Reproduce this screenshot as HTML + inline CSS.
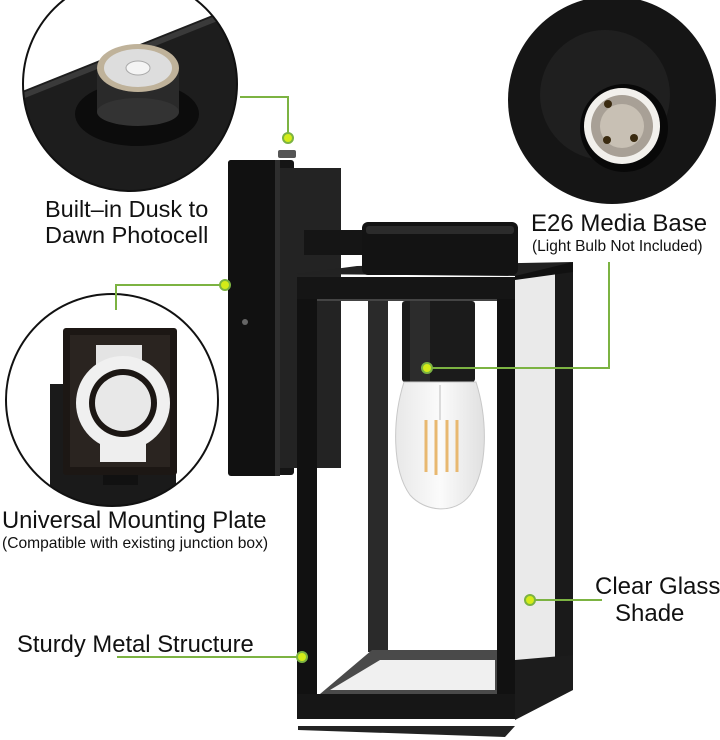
<!DOCTYPE html>
<html><head><meta charset="utf-8"><style>
html,body{margin:0;padding:0;background:#fff;}
svg{display:block}
text{font-family:"Liberation Sans",Arial,sans-serif;fill:#111}
</style></head><body>
<svg width="720" height="740" viewBox="0 0 720 740" xmlns="http://www.w3.org/2000/svg">
<defs>
<clipPath id="c1"><circle cx="130" cy="84" r="107"/></clipPath>
<clipPath id="c3"><circle cx="112" cy="400" r="106"/></clipPath>
<linearGradient id="bulb" x1="0" y1="0" x2="1" y2="0"><stop offset="0" stop-color="#e8e8e8"/><stop offset=".5" stop-color="#fbfbfb"/><stop offset="1" stop-color="#e0e0e0"/></linearGradient>
</defs>

<!-- top-left circle -->
<g clip-path="url(#c1)">
<rect x="0" y="-30" width="260" height="230" fill="#fff"/>
<polygon points="0,100 250,0 260,0 260,200 0,200" fill="#1d1d1d"/>
<polygon points="0,102 250,2 250,8 0,108" fill="#3a3a3a"/>
<ellipse cx="137" cy="114" rx="62" ry="32" fill="#0c0c0c"/>
<rect x="97" y="68" width="82" height="44" fill="#2a2a2a"/>
<ellipse cx="138" cy="112" rx="41" ry="14" fill="#333"/>
<ellipse cx="138" cy="68" rx="41" ry="24" fill="#bfb29a"/>
<ellipse cx="138" cy="68" rx="34" ry="19" fill="#ddd"/>
<ellipse cx="138" cy="68" rx="12" ry="7" fill="#f4f4f4" stroke="#aaa"/>
</g>
<circle cx="130" cy="84" r="107" fill="none" stroke="#111" stroke-width="2"/>

<!-- top-right circle -->
<circle cx="612" cy="100" r="104" fill="#151515"/>
<circle cx="605" cy="95" r="65" fill="#1f1f1f"/>
<circle cx="624" cy="128" r="44" fill="#080808"/>
<circle cx="622" cy="126" r="38" fill="#f2f0ec"/>
<circle cx="622" cy="126" r="31" fill="#a8a096"/>
<circle cx="622" cy="126" r="22" fill="#c8c0b4"/>
<circle cx="608" cy="104" r="4" fill="#3a2a10"/>
<circle cx="634" cy="138" r="4" fill="#3a2a10"/>
<circle cx="607" cy="140" r="4" fill="#3a2a10"/>

<!-- middle-left circle -->
<g clip-path="url(#c3)">
<rect x="0" y="290" width="230" height="230" fill="#fff"/>
<rect x="50" y="384" width="126" height="130" fill="#1a1a1a"/>
<rect x="63" y="328" width="114" height="147" rx="3" fill="#1c1714"/>
<rect x="70" y="335" width="100" height="132" fill="#2a2420"/>
<rect x="96" y="345" width="46" height="40" fill="#e4e4e4"/>
<circle cx="123" cy="403" r="47" fill="#f0f0f0"/>
<circle cx="123" cy="403" r="34" fill="#1c1714"/>
<circle cx="123" cy="403" r="28" fill="#e8e8e8"/>
<rect x="100" y="440" width="46" height="22" fill="#eee"/>
<rect x="103" y="475" width="35" height="10" fill="#111"/>
</g>
<circle cx="112" cy="400" r="106" fill="none" stroke="#111" stroke-width="2"/>

<!-- lamp: backplate -->
<rect x="228" y="160" width="66" height="315" rx="3" fill="#151515"/>
<rect x="271" y="168" width="70" height="300" fill="#232323"/>
<rect x="228" y="160" width="50" height="316" rx="3" fill="#111"/>
<rect x="275" y="160" width="5" height="316" fill="#2e2e2e"/>
<rect x="278" y="150" width="18" height="8" rx="2" fill="#555"/>
<circle cx="245" cy="322" r="3" fill="#666"/>
<!-- arm -->
<rect x="304" y="230" width="64" height="25" fill="#151515"/>
<!-- right side depth -->
<polygon points="515,268 573,262 573,690 515,720" fill="#eaeaea"/>
<rect x="555" y="268" width="18" height="415" fill="#1a1a1a"/>
<polygon points="515,268 573,262 573,272 515,280" fill="#111"/>
<polygon points="515,660 573,655 573,690 515,720" fill="#1c1c1c"/>
<!-- top plate -->
<polygon points="297,274 357,266 573,262 515,276" fill="#222"/>
<!-- cap -->
<rect x="362" y="222" width="156" height="53" rx="6" fill="#131313"/>
<rect x="366" y="226" width="148" height="8" rx="3" fill="#2b2b2b"/>
<!-- inner back posts -->
<rect x="368" y="300" width="20" height="352" fill="#2a2a2a"/>
<polygon points="320,694 372,650 500,650 500,694" fill="#4a4a4a"/>
<polygon points="330,690 380,660 495,660 495,690" fill="#f0f0f0"/>
<!-- socket -->
<rect x="402" y="301" width="73" height="81" rx="3" fill="#1b1b1b"/>
<rect x="410" y="301" width="20" height="81" fill="#2c2c2c"/>
<!-- bulb -->
<path d="M404,382 C392,420 392,470 410,495 C425,512 455,515 470,495 C488,470 488,420 476,382 Z" fill="url(#bulb)" stroke="#c8c8c8"/>
<g stroke="#e8b870" stroke-width="3"><line x1="426" y1="420" x2="426" y2="472"/><line x1="436" y1="420" x2="436" y2="475"/><line x1="447" y1="420" x2="447" y2="472"/><line x1="457" y1="420" x2="457" y2="472"/></g>
<line x1="440" y1="385" x2="440" y2="420" stroke="#bbb"/>
<!-- front frame -->
<rect x="297" y="277" width="20" height="442" fill="#111"/>
<rect x="497" y="277" width="18" height="442" fill="#111"/>
<rect x="297" y="277" width="218" height="22" fill="#151515"/>
<rect x="297" y="694" width="218" height="25" fill="#161616"/>
<rect x="317" y="299" width="180" height="2" fill="#444"/>
<!-- shadow -->
<polygon points="298,726 515,726 505,737 298,730" fill="#222"/>

<!-- connectors -->
<g stroke="#7cb342" stroke-width="2" fill="none">
<polyline points="240,97 288,97 288,137"/>
<polyline points="427,368 609,368 609,262"/>
<polyline points="225,285 116,285 116,310"/>
<line x1="530" y1="600" x2="602" y2="600"/>
<line x1="117" y1="657" x2="302" y2="657"/>
</g>
<g fill="#d4ec18" stroke="#7cb342" stroke-width="2">
<circle cx="288" cy="138" r="5"/>
<circle cx="427" cy="368" r="5"/>
<circle cx="225" cy="285" r="5"/>
<circle cx="530" cy="600" r="5"/>
<circle cx="302" cy="657" r="5"/>
</g>

<!-- labels -->
<text x="45" y="217" font-size="23.5">Built–in Dusk to</text>
<text x="45" y="243" font-size="23.5">Dawn Photocell</text>
<text x="531" y="231" font-size="24">E26 Media Base</text>
<text x="532" y="251" font-size="15.5">(Light Bulb Not Included)</text>
<text x="2" y="528" font-size="23.8">Universal Mounting Plate</text>
<text x="2" y="548" font-size="15.6">(Compatible with existing junction box)</text>
<text x="595" y="594" font-size="24">Clear Glass</text>
<text x="615" y="621" font-size="24">Shade</text>
<text x="17" y="652" font-size="23.8">Sturdy Metal Structure</text>
</svg>
</body></html>
